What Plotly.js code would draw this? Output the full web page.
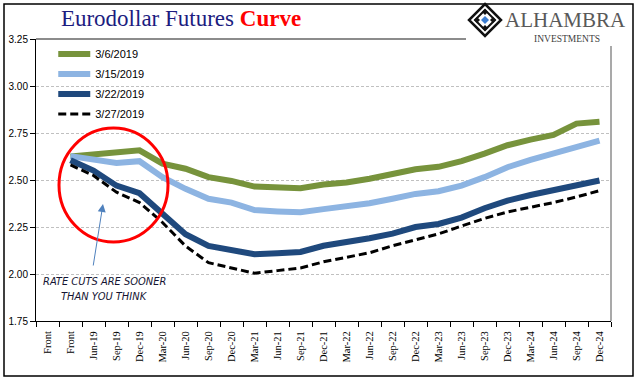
<!DOCTYPE html>
<html>
<head>
<meta charset="utf-8">
<script src="https://cdn.plot.ly/plotly-3.0.1.min.js"></script>
<style>html,body{margin:0;padding:0;background:#fff}#chart{width:641px;height:381px}</style>
</head>
<body>
<div id="chart"></div>
<script>
// Category tick labels (first "Front" column is empty)
const tickLabels = ["Front","Front","Jun-19","Sep-19","Dec-19","Mar-20","Jun-20","Sep-20","Dec-20","Mar-21","Jun-21","Sep-21","Dec-21","Mar-22","Jun-22","Sep-22","Dec-22","Mar-23","Jun-23","Sep-23","Dec-23","Mar-24","Jun-24","Sep-24","Dec-24"];
const seriesNames = ["3/6/2019","3/15/2019","3/22/2019","3/27/2019"];
// values start at the second "Front" column
const mar06 = [2.625,2.637,2.643,2.658,2.587,2.560,2.515,2.495,2.465,2.458,2.456,2.476,2.487,2.507,2.534,2.557,2.570,2.600,2.640,2.685,2.715,2.740,2.800,2.810];
const mar15 = [2.627,2.608,2.590,2.600,2.515,2.453,2.400,2.380,2.340,2.333,2.328,2.345,2.360,2.376,2.400,2.426,2.440,2.470,2.515,2.568,2.607,2.640,2.675,2.710];
const mar22 = [2.605,2.550,2.470,2.430,2.320,2.212,2.149,2.125,2.105,2.110,2.117,2.150,2.166,2.190,2.215,2.250,2.266,2.300,2.350,2.390,2.420,2.444,2.470,2.497];
const mar27 = [2.580,2.524,2.435,2.380,2.274,2.149,2.060,2.030,2.004,2.018,2.032,2.065,2.087,2.113,2.150,2.180,2.213,2.255,2.296,2.330,2.355,2.380,2.410,2.443];
const yTicks = [1.75,2.00,2.25,2.50,2.75,3.00,3.25];

const tickIdx = tickLabels.map((_, i) => i);
const xs = mar06.map((_, i) => i + 1);

const L = 36, R = 30, T = 39, B = 60, W = 641, H = 381;
const pw = W - L - R, ph = H - T - B;
const px = x => (x - L) / pw;
const py = y => (H - B - y) / ph;

const traces = [
  {x: xs, y: mar06, name: seriesNames[0], legendgroup: 'a', mode: 'lines', line: {color: '#77933C', width: 6}},
  {x: xs, y: mar15, name: seriesNames[1], legendgroup: 'b', mode: 'lines', line: {color: '#8DB4E2', width: 6}},
  {x: xs, y: mar22, name: seriesNames[2], legendgroup: 'c', mode: 'lines', line: {color: '#1F497D', width: 6}},
  {x: xs, y: mar27, name: seriesNames[3], legendgroup: 'd', mode: 'lines', line: {color: '#000000', width: 3, dash: '8px,4px'}}
];

const dia = (cx, cy, r) => `M${px(cx)},${py(cy - r)} L${px(cx + r)},${py(cy)} L${px(cx)},${py(cy + r)} L${px(cx - r)},${py(cy)} Z`;

const shapes = [
  // outer frame
  {type: 'rect', xref: 'paper', yref: 'paper', x0: px(4), x1: px(633), y0: py(376), y1: py(4), line: {color: '#000', width: 1.5}, layer: 'above'},
  // plot top & right border
  {type: 'line', xref: 'paper', yref: 'paper', x0: 0, x1: 1, y0: 1, y1: 1, line: {color: '#8c8c8c', width: 2}, layer: 'above'},
  {type: 'line', xref: 'paper', yref: 'paper', x0: 1, x1: 1, y0: 0, y1: 1, line: {color: '#8c8c8c', width: 1.5}, layer: 'above'},
  // logo background
  {type: 'rect', xref: 'paper', yref: 'paper', x0: px(466), x1: px(632), y0: py(46), y1: py(5), fillcolor: '#fff', line: {width: 0}, layer: 'above'},
  // logo diamond
  {type: 'path', xref: 'paper', yref: 'paper', path: dia(485, 20, 16), line: {color: '#111', width: 2.5}, layer: 'above'},
  {type: 'path', xref: 'paper', yref: 'paper', path: dia(485, 20, 10), line: {color: '#111', width: 2}, layer: 'above'},
  {type: 'path', xref: 'paper', yref: 'paper', path: dia(477, 20, 3), fillcolor: '#111', line: {width: 0}, layer: 'above'},
  {type: 'path', xref: 'paper', yref: 'paper', path: dia(493, 20, 3), fillcolor: '#111', line: {width: 0}, layer: 'above'},
  {type: 'path', xref: 'paper', yref: 'paper', path: dia(485, 12, 3), fillcolor: '#111', line: {width: 0}, layer: 'above'},
  {type: 'path', xref: 'paper', yref: 'paper', path: dia(485, 28, 3), fillcolor: '#111', line: {width: 0}, layer: 'above'},
  {type: 'path', xref: 'paper', yref: 'paper', path: dia(485, 20, 4), fillcolor: '#3C7DD0', line: {width: 0}, layer: 'above'},
  // red ellipse
  {type: 'circle', xref: 'paper', yref: 'paper', x0: px(59), x1: px(168), y0: py(242), y1: py(128), line: {color: '#FF0000', width: 3}, layer: 'above'}
];

const noteFont = {family: 'Liberation Sans Narrow, DejaVu Sans Condensed, Liberation Sans', size: 11, color: '#141432'};
const annotations = [
  {xref: 'paper', yref: 'paper', x: px(565), y: py(20), text: 'ALHAMBRA', showarrow: false, xanchor: 'center', yanchor: 'middle', font: {family: 'Liberation Serif', size: 21, color: '#595959'}},
  {xref: 'paper', yref: 'paper', x: px(567), y: py(39), text: 'INVESTMENTS', showarrow: false, xanchor: 'center', yanchor: 'middle', font: {family: 'Liberation Serif', size: 9.5, color: '#404040'}},
  {xref: 'paper', yref: 'paper', x: px(104), y: py(281.5), text: '<i>RATE CUTS ARE SOONER</i>', showarrow: false, xanchor: 'center', yanchor: 'middle', font: noteFont},
  {xref: 'paper', yref: 'paper', x: px(104.5), y: py(296.5), text: '<i>THAN YOU THINK</i>', showarrow: false, xanchor: 'center', yanchor: 'middle', font: noteFont},
  {xref: 'paper', yref: 'paper', x: px(103), y: py(204), text: '', showarrow: true, ax: -10, ay: 63, arrowcolor: '#4F81BD', arrowwidth: 1, arrowhead: 2, arrowsize: 1.6, standoff: 0, startstandoff: 0}
];

const layout = {
  width: W, height: H,
  margin: {l: L, r: R, t: T, b: B, pad: 0},
  paper_bgcolor: '#fff', plot_bgcolor: '#fff',
  title: {
    text: 'Eurodollar Futures <span style="color:#FF0000"><b>Curve</b></span>',
    font: {family: 'Liberation Serif', size: 23, color: '#1C1C80'},
    xref: 'container', yref: 'container', x: 181 / W, xanchor: 'center', y: 1 - 18 / H, yanchor: 'middle'
  },
  showlegend: true,
  legend: {x: 0.03, y: 0.998, xanchor: 'left', yanchor: 'top', bgcolor: 'rgba(0,0,0,0)', itemwidth: 32, traceorder: 'grouped',
           font: {family: 'Liberation Sans', size: 11, color: '#000'}, tracegroupgap: 1},
  xaxis: {
    range: [-0.5, tickLabels.length - 0.5],
    tickmode: 'array', tickvals: tickIdx, ticktext: tickLabels, tickangle: -90,
    ticks: '', showgrid: false, zeroline: false,
    showline: true, linecolor: '#000', linewidth: 1,
    ticklabelstandoff: 5,
    tickfont: {family: 'Liberation Serif', size: 10.5, color: '#000'},
    minor: {tickmode: 'linear', tick0: -0.5, dtick: 1, ticks: 'outside', ticklen: 5, tickcolor: '#000', tickwidth: 1, showgrid: false}
  },
  yaxis: {
    range: [1.75, 3.25],
    tickmode: 'array', tickvals: yTicks, tickformat: '.2f',
    ticks: 'outside', ticklen: 5, tickcolor: '#000',
    showgrid: true, gridcolor: '#C0C0C0', gridwidth: 1, griddash: '3px,2px',
    zeroline: false, showline: true, linecolor: '#000', linewidth: 1,
    tickfont: {family: 'Liberation Sans', size: 10, color: '#000'}
  },
  shapes: shapes,
  annotations: annotations
};

Plotly.newPlot('chart', traces, layout, {staticPlot: true, displayModeBar: false});
</script>
</body>
</html>
